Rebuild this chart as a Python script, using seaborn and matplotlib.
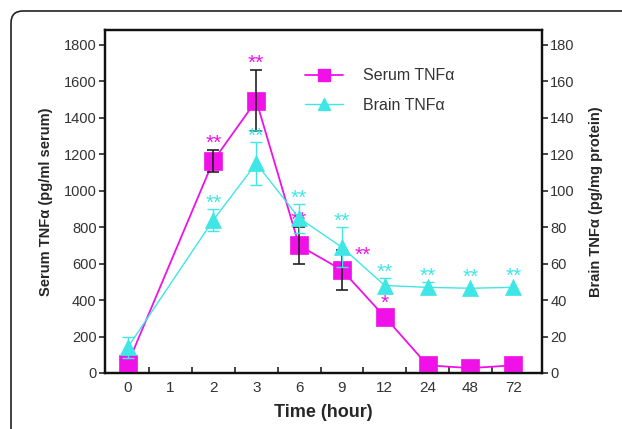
"""
Serum and brain TNF-alpha time course, two y axes.
"""

import numpy as np
import pandas as pd
import matplotlib
matplotlib.use("Agg")
import matplotlib.pyplot as plt
from matplotlib.patches import FancyBboxPatch
from matplotlib.lines import Line2D
import seaborn as sns

TIME_LABELS = ["0", "1", "2", "3", "6", "9", "12", "24", "48", "72"]

SERUM_TIMES = ["0", "2", "3", "6", "9", "12", "24", "48", "72"]
SERUM_MEAN = [50, 1165, 1495, 700, 565, 308, 42, 27, 42]
SERUM_ERR = [0, 60, 165, 100, 110, 0, 0, 0, 0]
SERUM_SIG = ["", "**", "**", "**", "**", "*", "", "", ""]

BRAIN_TIMES = ["0", "2", "3", "6", "9", "12", "24", "48", "72"]
BRAIN_MEAN = [14, 84, 115, 85, 69, 48, 47, 46.5, 47]
BRAIN_ERR = [6, 6, 12, 8, 11, 4, 3, 0, 0]
BRAIN_SIG = ["", "**", "**", "**", "**", "**", "**", "**", "**"]

MAGENTA = "#f011e8"
CYAN = "#3fe6e6"
TEXT = "#333333"


def configure_matplotlib() -> None:
    sns.set_style("ticks")
    plt.rcParams["font.family"] = ["Liberation Sans", "DejaVu Sans"]
    plt.rcParams["axes.linewidth"] = 1.5


def frame(df: pd.DataFrame, times) -> pd.DataFrame:
    df = df.copy()
    df["pos"] = [TIME_LABELS.index(t) for t in times]
    return df


def main() -> None:
    configure_matplotlib()
    serum = frame(pd.DataFrame({"mean": SERUM_MEAN, "err": SERUM_ERR, "sig": SERUM_SIG}), SERUM_TIMES)
    brain = frame(pd.DataFrame({"mean": BRAIN_MEAN, "err": BRAIN_ERR, "sig": BRAIN_SIG}), BRAIN_TIMES)

    fig = plt.figure(figsize=(6.22, 4.29), dpi=100)
    ax = fig.add_axes([105 / 622, 56 / 429, 437 / 622, 343 / 429])
    ax2 = ax.twinx()

    # serum (left axis)
    sns.lineplot(data=serum, x="pos", y="mean", ax=ax, color=MAGENTA, linewidth=1.3,
                 marker="s", markersize=13, markeredgecolor=MAGENTA, markeredgewidth=0.5, zorder=3)
    m = serum["err"] > 0
    ax.errorbar(serum.loc[m, "pos"], serum.loc[m, "mean"], yerr=serum.loc[m, "err"],
                fmt="none", ecolor="#222222", elinewidth=1.2, capsize=4, capthick=1.2, zorder=4)

    # brain (right axis)
    sns.lineplot(data=brain, x="pos", y="mean", ax=ax2, color=CYAN, linewidth=1.0,
                 marker="^", markersize=12, markeredgecolor=CYAN, markeredgewidth=0.5, zorder=3)
    m = brain["err"] > 0
    ax2.errorbar(brain.loc[m, "pos"], brain.loc[m, "mean"], yerr=brain.loc[m, "err"],
                 fmt="none", ecolor=CYAN, elinewidth=1.0, capsize=4, capthick=1.0, zorder=4)

    # significance stars
    for _, r in serum.iterrows():
        if not r["sig"]:
            continue
        dx, dy = (15, -8) if TIME_LABELS[r["pos"]] == "9" else (0, 1)
        if r["err"] == 0:
            dy = 6
        ax.annotate(r["sig"], (r["pos"], r["mean"] + r["err"]), xytext=(dx, dy),
                    textcoords="offset points", ha="center", va="baseline",
                    color=MAGENTA, fontsize=15, zorder=6)
    for _, r in brain.iterrows():
        if not r["sig"]:
            continue
        ax2.annotate(r["sig"], (r["pos"], r["mean"] + r["err"]), xytext=(0, 0 if r["err"] else 4),
                     textcoords="offset points", ha="center", va="baseline",
                     color=CYAN, fontsize=15, zorder=6)

    ax.set_xlim(-0.53, 9.67)
    ax.set_ylim(0, 1882)
    ax2.set_ylim(0, 188.2)
    ax.set_yticks(np.arange(0, 1801, 200))
    ax2.set_yticks(np.arange(0, 181, 20))
    ax.set_xticks(range(len(TIME_LABELS)))
    ax.set_xticklabels(TIME_LABELS)
    ax.set_xticks(np.arange(0.5, len(TIME_LABELS) - 1, 1.0), minor=True)
    ax.tick_params(axis="x", which="major", length=0, pad=6, labelsize=11, labelcolor=TEXT)
    ax.tick_params(axis="x", which="minor", direction="in", length=4, width=1.2, color="#222222")
    ax.tick_params(axis="y", length=4, width=1.2, labelsize=10.5, labelcolor=TEXT, pad=2)
    ax2.tick_params(axis="y", length=4, width=1.2, labelsize=10.5, labelcolor=TEXT, pad=2)

    for a in (ax, ax2):
        for s in a.spines.values():
            s.set_visible(True)
            s.set_linewidth(1.6)
            s.set_color("#111111")

    ax.set_xlabel("Time (hour)", fontsize=13, fontweight="bold", labelpad=6)
    ax.set_ylabel("Serum TNF\u03b1 (pg/ml serum)", fontsize=10.5, fontweight="bold", labelpad=8)
    ax2.set_ylabel("Brain TNF\u03b1 (pg/mg protein)", fontsize=10.5, fontweight="bold", labelpad=10)

    handles = [
        Line2D([], [], color=MAGENTA, linewidth=1.3, marker="s", markersize=8, markeredgecolor=MAGENTA),
        Line2D([], [], color=CYAN, linewidth=1.0, marker="^", markersize=8, markeredgecolor=CYAN),
    ]
    ax2.legend(handles, ["Serum TNF\u03b1", "Brain TNF\u03b1"], loc="upper left",
               bbox_to_anchor=(0.425, 0.93), frameon=False, fontsize=11.5,
               handlelength=2.4, handletextpad=1.2, labelspacing=0.9, labelcolor=TEXT)

    # rounded outer frame, open to the right and bottom
    border = FancyBboxPatch((11, -60), 700, 429 - 11 + 60, boxstyle="round,pad=0,rounding_size=12",
                            transform=None, fill=False, edgecolor="#222222", linewidth=1.2)
    fig.patches.append(border)

    fig.savefig("out.png", dpi=100)


if __name__ == "__main__":
    main()
